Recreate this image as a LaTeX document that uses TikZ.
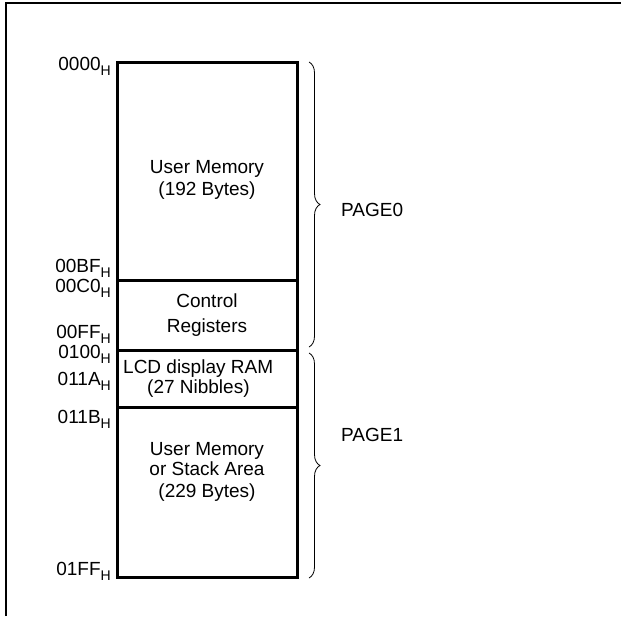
\documentclass[tikz,border=0pt]{standalone}
\usepackage{fontspec}
\setmainfont{Liberation Sans}
\usetikzlibrary{decorations.pathreplacing}
\newcommand{\hsub}[1]{\raisebox{-0.28em}{\fontsize{14}{14}\selectfont #1}}
\begin{document}
\begin{tikzpicture}[x=1pt,y=-1pt,
  every node/.style={inner sep=0pt,font=\fontsize{19}{22}\selectfont},
  addr/.style={anchor=base east},
  memtext/.style={anchor=base},
  memline/.style={line width=3pt},
  pagebrace/.style={decorate,decoration={brace,amplitude=11pt},line width=0.8pt},
  pagelbl/.style={anchor=west}]
\useasboundingbox (0,0) rectangle (621,616);
% frame
\draw[line width=2.5pt] (6,616) -- (6,3) -- (621,3);
% memory box
\coordinate (tl) at (117,62);
\coordinate (br) at (297,577);
\draw[memline] (tl) rectangle (br);
\draw[memline] (117,280) -- (297,280);
\draw[memline] (117,350) -- (297,350);
\draw[memline] (117,407) -- (297,407);
% addresses
\node[addr] (a0) at (111,70) {0000\hsub{H}};
\node[addr] (a1) at (111,272) {00BF\hsub{H}};
\node[addr] (a2) at (111,292) {00C0\hsub{H}};
\node[addr] (a3) at (111,338) {00FF\hsub{H}};
\node[addr] (a4) at (111,358) {0100\hsub{H}};
\node[addr] (a5) at (111,385) {011A\hsub{H}};
\node[addr] (a6) at (111,423) {011B\hsub{H}};
\node[addr] (a7) at (111,575) {01FF\hsub{H}};
% box texts
\node[memtext] (u1) at (207,173) {User Memory};
\node[memtext] (u2) at (207,195) {(192 Bytes)};
\node[memtext] (c1) at (207,307) {Control};
\node[memtext] (c2) at (207,332) {Registers};
\node[anchor=base west] (l1) at (123,373) {LCD display RAM};
\node[anchor=base west] (l2) at (147,393) {(27 Nibbles)};
\node[memtext] (s1) at (207,455) {User Memory};
\node[memtext] (s2) at (207,475) {or Stack Area};
\node[memtext] (s3) at (207,497) {(229 Bytes)};
% braces
\coordinate (b0t) at (309,62);
\coordinate (b0b) at (309,347);
\coordinate (b1t) at (309,353);
\coordinate (b1b) at (309,578);
\draw[pagebrace] (b0t) -- (b0b);
\draw[pagebrace] (b1t) -- (b1b);
\node[pagelbl] (p0) at (341,210) {PAGE0};
\node[pagelbl] (p1) at (341,435) {PAGE1};
\end{tikzpicture}
\end{document}
